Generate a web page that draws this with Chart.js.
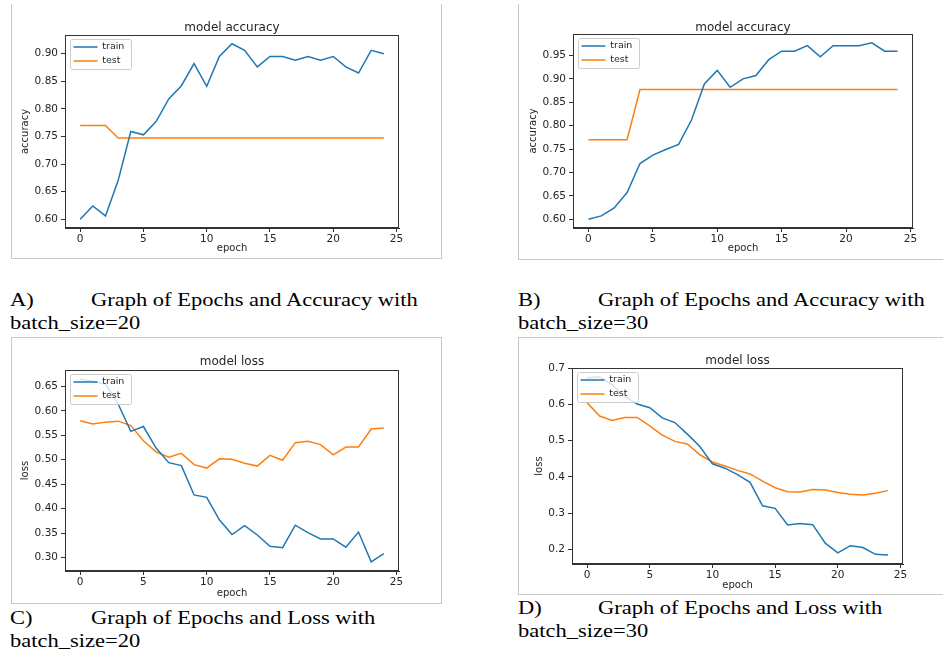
<!DOCTYPE html>
<html>
<head>
<meta charset="utf-8">
<script src="https://cdn.jsdelivr.net/npm/chart.js@4"></script>
<style>
  body { margin: 0; background: #fff; }
  #page { position: relative; width: 943px; height: 658px; overflow: hidden; }
  .box { position: absolute; box-sizing: border-box; border: 0 solid #c8c8c8; }
  canvas { position: absolute; }
  .cap { position: absolute; white-space: nowrap; font-family: "Liberation Serif", "Times New Roman", serif;
         font-size: 22.5px; line-height: 22.5px; color: #000; transform: scale(1, 0.85); transform-origin: 0 18.8px; }
</style>
</head>
<body>
<div id="page">
  <div class="box" style="left:11px;top:4px;width:431px;height:255px;border-left-width:1px;border-right-width:1px;border-bottom-width:1px"></div>
  <div class="box" style="left:518px;top:4px;width:430px;height:256px;border-left-width:1px;border-bottom-width:1px"></div>
  <div class="box" style="left:11px;top:337px;width:431px;height:267px;border-width:1px"></div>
  <div class="box" style="left:518px;top:337px;width:430px;height:258px;border-left-width:1px;border-top-width:1px;border-bottom-width:1px"></div>

  <canvas id="accA" width="429" height="254" style="left:12px;top:4px"></canvas>
  <canvas id="accB" width="424" height="254" style="left:519px;top:4px"></canvas>
  <canvas id="lossC" width="429" height="265" style="left:12px;top:338px"></canvas>
  <canvas id="lossD" width="424" height="256" style="left:519px;top:338px"></canvas>

  <div class="cap" style="left:10px;top:288.2px">A)</div>
  <div class="cap" style="left:91px;top:288.2px">Graph of Epochs and Accuracy with</div>
  <div class="cap" style="left:10px;top:311.2px">batch_size=20</div>
  <div class="cap" style="left:518px;top:288.2px">B)</div>
  <div class="cap" style="left:598px;top:288.2px">Graph of Epochs and Accuracy with</div>
  <div class="cap" style="left:518px;top:311.2px">batch_size=30</div>
  <div class="cap" style="left:10px;top:606.2px">C)</div>
  <div class="cap" style="left:91px;top:606.2px">Graph of Epochs and Loss with</div>
  <div class="cap" style="left:10px;top:629.2px">batch_size=20</div>
  <div class="cap" style="left:518px;top:596.2px">D)</div>
  <div class="cap" style="left:598px;top:596.2px">Graph of Epochs and Loss with</div>
  <div class="cap" style="left:518px;top:619.2px">batch_size=30</div>
</div>
<script>
const epochs = [0, 1, 2, 3, 4, 5, 6, 7, 8, 9, 10, 11, 12, 13, 14, 15, 16, 17, 18, 19, 20, 21, 22, 23, 24];
const xTicks = [0, 5, 10, 15, 20, 25];

// batch_size=20
const accTrain20 = [0.600, 0.624, 0.606, 0.670, 0.759, 0.753, 0.777, 0.818, 0.842, 0.882, 0.841, 0.895, 0.918,
                    0.906, 0.876, 0.895, 0.895, 0.888, 0.895, 0.888, 0.895, 0.876, 0.865, 0.906, 0.900];
const accTest20 = [0.770, 0.770, 0.770, 0.747, 0.747, 0.747, 0.747, 0.747, 0.747, 0.747, 0.747, 0.747, 0.747,
                   0.747, 0.747, 0.747, 0.747, 0.747, 0.747, 0.747, 0.747, 0.747, 0.747, 0.747, 0.747];
const lossTrain20 = [0.665, 0.660, 0.655, 0.614, 0.558, 0.568, 0.524, 0.494, 0.488, 0.428, 0.423, 0.377, 0.347,
                     0.365, 0.346, 0.323, 0.320, 0.366, 0.351, 0.338, 0.338, 0.321, 0.352, 0.291, 0.308];
const lossTest20 = [0.580, 0.573, 0.577, 0.579, 0.570, 0.539, 0.516, 0.505, 0.513, 0.490, 0.483, 0.502, 0.501,
                    0.493, 0.487, 0.509, 0.499, 0.535, 0.538, 0.531, 0.510, 0.526, 0.526, 0.563, 0.565];

// batch_size=30
const accTrain30 = [0.600, 0.607, 0.624, 0.657, 0.719, 0.737, 0.749, 0.760, 0.812, 0.889, 0.918, 0.882, 0.900,
                    0.907, 0.941, 0.959, 0.959, 0.971, 0.947, 0.971, 0.971, 0.971, 0.977, 0.959, 0.959];
const accTest30 = [0.770, 0.770, 0.770, 0.770, 0.877, 0.877, 0.877, 0.877, 0.877, 0.877, 0.877, 0.877, 0.877,
                   0.877, 0.877, 0.877, 0.877, 0.877, 0.877, 0.877, 0.877, 0.877, 0.877, 0.877, 0.877];
const lossTrain30 = [0.674, 0.676, 0.654, 0.623, 0.601, 0.591, 0.563, 0.550, 0.518, 0.484, 0.436, 0.424, 0.406,
                     0.385, 0.320, 0.313, 0.267, 0.271, 0.268, 0.217, 0.190, 0.210, 0.205, 0.186, 0.184];
const lossTest30 = [0.605, 0.568, 0.556, 0.564, 0.564, 0.541, 0.515, 0.498, 0.491, 0.461, 0.441, 0.430, 0.418,
                    0.408, 0.388, 0.370, 0.359, 0.358, 0.365, 0.364, 0.357, 0.352, 0.350, 0.355, 0.362];

const accTicks20 = [0.60, 0.65, 0.70, 0.75, 0.80, 0.85, 0.90];
const accTicks30 = [0.60, 0.65, 0.70, 0.75, 0.80, 0.85, 0.90, 0.95];
const lossTicks20 = [0.30, 0.35, 0.40, 0.45, 0.50, 0.55, 0.60, 0.65];
const lossTicks30 = [0.2, 0.3, 0.4, 0.5, 0.6, 0.7];

const BLUE = '#1f77b4';
const ORANGE = '#ff7f0e';
const TEXT = '#262626';
const AXIS = '#333333';

Chart.defaults.font.family = "'DejaVu Sans', sans-serif";

// matplotlib style axis limits: data range plus 5% each side
function limits(values) {
  const lo = Math.min(...values), hi = Math.max(...values);
  const pad = (hi - lo) * 0.05;
  return [lo - pad, hi + pad];
}

// legend inside the axes (upper left) with a semi transparent frame over the lines,
// plus the full axes frame
const legendFrame = {
  id: 'legendFrame',
  beforeLayout(chart) {
    const legend = chart.legend;
    legend._layers = () => [{z: 1, draw: (area) => legend.draw(area)}];
  },
  afterLayout(chart) {
    const legend = chart.legend;
    const a = chart.chartArea;
    legend.top = a.top;
    legend.bottom = a.bottom;
    legend.left = a.left + 4;
    legend.right = a.right;
  },
  afterDatasetsDraw(chart) {
    const ctx = chart.ctx;
    const a = chart.chartArea;
    ctx.save();
    ctx.strokeStyle = AXIS;
    ctx.lineWidth = 1;
    ctx.strokeRect(Math.round(a.left) + 0.5, Math.round(a.top) + 0.5,
                   Math.round(a.right - a.left) - 1, Math.round(a.bottom - a.top) - 1);
    let l = Infinity, t = Infinity, r = -Infinity, b = -Infinity;
    chart.legend.legendHitBoxes.forEach(h => {
      l = Math.min(l, h.left); t = Math.min(t, h.top);
      r = Math.max(r, h.left + h.width); b = Math.max(b, h.top + h.height);
    });
    ctx.beginPath();
    ctx.roundRect(Math.round(l - 4) + 0.5, Math.round(t - 3) + 0.5, Math.round(r - l + 10), Math.round(b - t + 6), 2);
    ctx.fillStyle = 'rgba(255,255,255,0.8)';
    ctx.fill();
    ctx.strokeStyle = '#cccccc';
    ctx.stroke();
    ctx.restore();
  }
};

function makeChart(id, title, yTitle, train, test, yTicks, dec, g) {
  const yLim = limits(train.concat(test));
  const xLim = limits(epochs);
  const line = (label, values, color) => ({
    label: label,
    data: epochs.map((e, i) => ({x: e, y: values[i]})),
    borderColor: color,
    backgroundColor: color,
    borderWidth: 1.5,
    pointRadius: 0,
    tension: 0
  });
  const axis = {
    grid: {display: true, drawOnChartArea: false, drawTicks: true, tickLength: 4, color: AXIS},
    border: {display: true, color: AXIS, width: 1}
  };
  new Chart(document.getElementById(id), {
    type: 'line',
    data: {datasets: [line('train', train, BLUE), line('test', test, ORANGE)]},
    options: {
      responsive: false,
      animation: false,
      events: [],
      layout: {padding: {left: 0, right: g.right, top: 0, bottom: 0}},
      plugins: {
        title: {
          display: true, text: title, fullSize: false, color: TEXT,
          font: {size: 12, weight: 'normal'},
          padding: {top: g.titleTop + 1.5, bottom: g.titleBottom - 1.5}
        },
        legend: {
          position: 'chartArea',
          align: 'start',
          title: {display: true, text: '', font: {size: 1}, padding: {top: 1.5, bottom: 0}},
          labels: {boxWidth: 24, boxHeight: 0, padding: 4.5, color: TEXT, font: {size: 9.5}}
        },
        tooltip: {enabled: false}
      },
      scales: {
        x: {
          type: 'linear', min: xLim[0], max: xLim[1],
          afterBuildTicks: s => { s.ticks = xTicks.map(v => ({value: v})); },
          afterFit: s => { s.height = g.xh; },
          ...axis,
          ticks: {color: TEXT, font: {size: 10.5}, padding: 1, maxRotation: 0, autoSkip: false,
                  callback: v => String(v)},
          title: {display: true, text: 'epoch', color: TEXT, font: {size: 10},
                  padding: {top: 0, bottom: g.xTitle}}
        },
        y: {
          type: 'linear', min: yLim[0], max: yLim[1],
          afterBuildTicks: s => { s.ticks = yTicks.map(v => ({value: v})); },
          afterFit: s => { s.width = g.yw; },
          ...axis,
          ticks: {color: TEXT, font: {size: 10.5}, padding: 3, autoSkip: false,
                  callback: v => v.toFixed(dec)},
          title: {display: true, text: yTitle, color: TEXT, font: {size: 10},
                  padding: {top: g.yTitle, bottom: 0}}
        }
      }
    },
    plugins: [legendFrame]
  });
}

makeChart('accA', 'model accuracy', 'accuracy', accTrain20, accTest20, accTicks20, 2,
  {yw: 53, xh: 30, right: 42, titleTop: 14.8, titleBottom: 1.8, yTitle: 7, xTitle: 4});
makeChart('accB', 'model accuracy', 'accuracy', accTrain30, accTest30, accTicks30, 2,
  {yw: 54, xh: 30, right: 30, titleTop: 14.8, titleBottom: 0.8, yTitle: 8, xTitle: 4});
makeChart('lossC', 'model loss', 'loss', lossTrain20, lossTest20, lossTicks20, 2,
  {yw: 53, xh: 32, right: 42, titleTop: 14.8, titleBottom: 2.8, yTitle: 7, xTitle: 4});
makeChart('lossD', 'model loss', 'loss', lossTrain30, lossTest30, lossTicks30, 1,
  {yw: 53, xh: 30, right: 40, titleTop: 13.8, titleBottom: 1.8, yTitle: 14, xTitle: 3});
</script>
</body>
</html>
